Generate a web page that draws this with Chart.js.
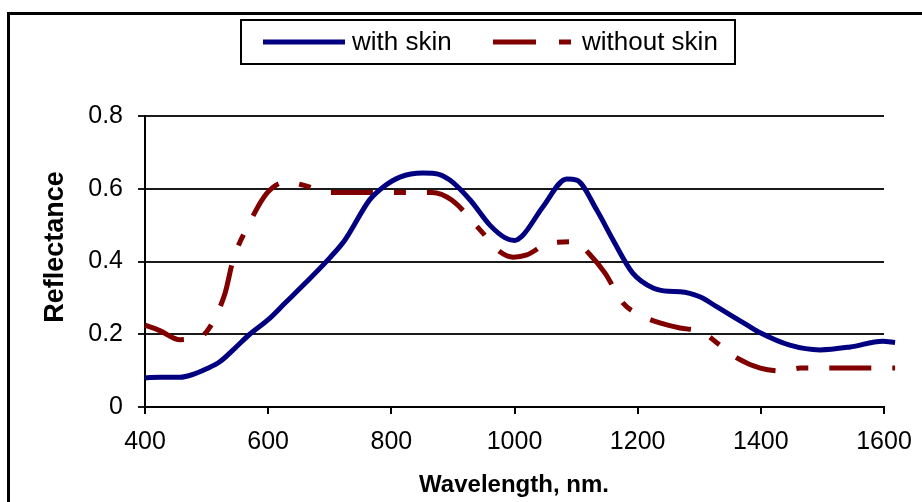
<!DOCTYPE html>
<html>
<head>
<meta charset="utf-8">
<style>
  html, body { margin: 0; padding: 0; background: #fff; }
  #wrap { width: 922px; height: 502px; }
</style>
<script src="https://cdn.jsdelivr.net/npm/chart.js@4/dist/chart.umd.min.js"></script>
</head>
<body>
<div id="wrap"><canvas id="reflChart" width="922" height="502"></canvas></div>
<script>
// wavelength (nm) / reflectance
const withSkinWl = [400, 425, 457, 475, 500, 522, 545, 570, 600, 627, 660, 700, 725, 765, 787, 814, 851, 870, 895, 928, 960, 985, 1000, 1014, 1046, 1085, 1101, 1134, 1160, 1192, 1225, 1250, 1269, 1301, 1329, 1378, 1399, 1447, 1496, 1545, 1598, 1618];
const withSkinR = [0.08, 0.082, 0.082, 0.088, 0.105, 0.125, 0.16, 0.2, 0.24, 0.285, 0.34, 0.41, 0.46, 0.57, 0.605, 0.632, 0.643, 0.642, 0.624, 0.569, 0.5, 0.465, 0.458, 0.473, 0.55, 0.627, 0.624, 0.54, 0.459, 0.368, 0.327, 0.318, 0.317, 0.303, 0.275, 0.225, 0.204, 0.17, 0.157, 0.165, 0.181, 0.177];

const noSkinWl = [400, 424, 457, 480, 500, 530, 543, 568, 598, 630, 657, 700, 765, 805, 866, 898, 944, 977, 998, 1020, 1057, 1098, 1123, 1147, 1176, 1204, 1236, 1269, 1305, 1329, 1361, 1399, 1436, 1464, 1496, 1618];
const noSkinR = [0.225, 0.21, 0.185, 0.19, 0.207, 0.313, 0.404, 0.5, 0.588, 0.619, 0.61, 0.59, 0.59, 0.59, 0.59, 0.569, 0.487, 0.426, 0.412, 0.418, 0.451, 0.454, 0.418, 0.368, 0.286, 0.253, 0.231, 0.217, 0.206, 0.176, 0.135, 0.107, 0.099, 0.107, 0.107, 0.107];

const seriesNames = ["with skin", "without skin"];
const xTicks = [400, 600, 800, 1000, 1200, 1400, 1600];
const yTicks = [0, 0.2, 0.4, 0.6, 0.8];

const BLUE = "#000080";
const RED = "#800000";
const FONT = "'Liberation Sans', Arial, sans-serif";
const redDash = [42, 21, 12, 21];

const pts = (xs, ys) => xs.map((x, i) => ({ x: x, y: ys[i] }));

// frame, legend box and axis titles
const decorPlugin = {
  id: "decor",
  afterDraw(chart) {
    const c = chart.ctx;
    c.save();
    c.fillStyle = "#000";
    c.fillRect(7, 12, 3, 490);
    c.fillRect(7, 12, 915, 3);

    // legend
    c.fillStyle = "#fff";
    c.fillRect(241, 20, 494, 44);
    c.lineWidth = 2;
    c.strokeStyle = "#000";
    c.strokeRect(241, 20, 494, 44);

    c.lineWidth = 5;
    c.lineCap = "butt";
    c.strokeStyle = BLUE;
    c.beginPath();
    c.moveTo(263, 42); c.lineTo(345, 42);
    c.stroke();
    c.strokeStyle = RED;
    c.beginPath();
    c.moveTo(493, 42); c.lineTo(536, 42);
    c.moveTo(559, 42); c.lineTo(571, 42);
    c.stroke();

    c.fillStyle = "#000";
    c.font = "26px " + FONT;
    c.textBaseline = "middle";
    c.textAlign = "left";
    c.fillText(seriesNames[0], 352, 43);
    c.fillText(seriesNames[1], 582, 43);

    // axis titles
    c.font = "bold 24px " + FONT;
    c.textAlign = "center";
    c.fillText("Wavelength, nm.", 514, 485);
    c.translate(55, 247);
    c.rotate(-Math.PI / 2);
    c.font = "bold 27px " + FONT;
    c.fillText("Reflectance", 0, 1);
    c.restore();
  }
};

const ctx = document.getElementById("reflChart").getContext("2d");
const reflChart = new Chart(ctx, {
  type: "line",
  data: {
    datasets: [
      {
        label: seriesNames[0],
        data: pts(withSkinWl, withSkinR),
        borderColor: BLUE,
        borderWidth: 5,
        pointRadius: 0,
        cubicInterpolationMode: "monotone",
        clip: false,
      },
      {
        label: seriesNames[1],
        data: pts(noSkinWl, noSkinR),
        borderColor: RED,
        borderWidth: 5,
        borderDash: redDash,
        borderCapStyle: "butt",
        pointRadius: 0,
        cubicInterpolationMode: "monotone",
        clip: false,
      },
    ],
  },
  options: {
    responsive: false,
    animation: false,
    layout: { padding: { left: 10, top: 116, right: 38, bottom: 0 } },
    plugins: {
      legend: { display: false },
      tooltip: { enabled: false },
    },
    scales: {
      x: {
        type: "linear",
        min: 400,
        max: 1600,
        afterBuildTicks: (s) => { s.ticks = xTicks.map(v => ({ value: v })); },
        afterFit: (s) => { s.height = 95; s.paddingLeft = 0; s.paddingRight = 0; },
        ticks: {
          color: "#000",
          font: { family: FONT, size: 25 },
          padding: 13,
          maxRotation: 0,
          callback: (v) => String(v),
        },
        grid: { drawOnChartArea: false, tickLength: 7, color: "#000", lineWidth: 2 },
        border: { color: "#000", width: 2 },
      },
      y: {
        min: 0,
        max: 0.8,
        afterBuildTicks: (s) => { s.ticks = yTicks.map(v => ({ value: v })); },
        afterFit: (s) => { s.width = 135; },
        ticks: {
          color: "#000",
          font: { family: FONT, size: 25 },
          padding: 15,
          callback: (v) => (v === 0 ? "0" : v.toFixed(1)),
        },
        grid: { color: "#1a1a1a", lineWidth: 2, tickLength: 7 },
        border: { color: "#000", width: 2 },
      },
    },
  },
  plugins: [decorPlugin],
});
</script>
</body>
</html>
